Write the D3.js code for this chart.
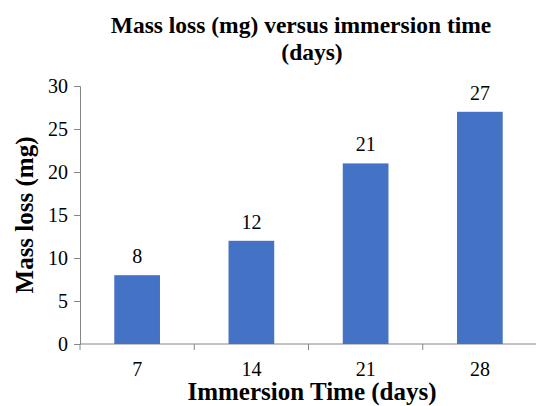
<!DOCTYPE html>
<html>
<head>
<meta charset="utf-8">
<script src="https://cdn.jsdelivr.net/npm/d3@7"></script>
<style>
  html, body { margin: 0; padding: 0; background: #fff; }
  svg text { font-family: "Liberation Serif", "Times New Roman", serif !important; fill: #000; }
</style>
</head>
<body>
<svg id="chart" width="536" height="406"></svg>
<script>
// Immersion time (days) and measured mass loss (mg)
const days = ["7", "14", "21", "28"];
const massLoss = [8, 12, 21, 27];
const yTicks = [0, 5, 10, 15, 20, 25, 30];

(function draw() {
  const serif = "Liberation Serif, Times New Roman, serif";
  const svg = d3.select("#chart").attr("font-family", serif);
  const plotLeft = 80, plotRight = 537, plotTop = 86, plotBottom = 344;

  const x = d3.scaleBand()
    .domain(days)
    .range([plotLeft, plotRight])
    .paddingInner(0.6)
    .paddingOuter(0.3);

  const y = d3.scaleLinear().domain([0, 30]).range([plotBottom, plotTop]);

  const axisColor = "#868686";

  // Y axis
  const yAxis = svg.append("g")
    .attr("transform", `translate(${plotLeft},0)`)
    .call(d3.axisLeft(y).tickValues(yTicks).tickSize(6).tickPadding(6));
  yAxis.attr("font-family", serif).attr("font-size", 20);
  yAxis.select(".domain").attr("stroke", axisColor);
  yAxis.selectAll(".tick line").attr("stroke", axisColor);
  yAxis.selectAll(".tick text").attr("fill", "#000");

  // X axis: ticks sit on the category boundaries
  const xAxisG = svg.append("g").attr("transform", `translate(0,${plotBottom})`);
  xAxisG.append("line")
    .attr("x1", plotLeft).attr("x2", plotRight)
    .attr("y1", 0).attr("y2", 0)
    .attr("stroke", axisColor);
  const step = x.step();
  const boundaries = d3.range(days.length + 1).map(i => plotLeft + i * step);
  xAxisG.selectAll(".xtick")
    .data(boundaries)
    .join("line")
    .attr("class", "xtick")
    .attr("x1", d => d).attr("x2", d => d)
    .attr("y1", 0).attr("y2", 6)
    .attr("stroke", axisColor);
  xAxisG.selectAll(".xlabel")
    .data(days)
    .join("text")
    .attr("class", "xlabel")
    .attr("x", d => x(d) + x.bandwidth() / 2)
    .attr("y", 32)
    .attr("text-anchor", "middle")
    .attr("font-size", 20)
    .text(d => d);

  const rows = days.map((d, i) => ({ day: d, value: massLoss[i] }));

  // Bars
  svg.append("g")
    .selectAll("rect")
    .data(rows)
    .join("rect")
    .attr("x", d => x(d.day))
    .attr("y", d => y(d.value))
    .attr("width", x.bandwidth())
    .attr("height", d => y(0) - y(d.value))
    .attr("fill", "#4472C4");

  // Value labels
  svg.append("g")
    .selectAll("text")
    .data(rows)
    .join("text")
    .attr("x", d => x(d.day) + x.bandwidth() / 2)
    .attr("y", d => y(d.value) - 12)
    .attr("text-anchor", "middle")
    .attr("font-size", 20)
    .text(d => d.value);

  // Axis titles
  svg.append("text")
    .attr("x", 312)
    .attr("y", 400)
    .attr("text-anchor", "middle")
    .attr("font-size", 25)
    .attr("font-weight", "bold")
    .text("Immersion Time (days)");

  svg.append("text")
    .attr("transform", "translate(33,215) rotate(-90)")
    .attr("text-anchor", "middle")
    .attr("font-size", 25)
    .attr("font-weight", "bold")
    .text("Mass loss (mg)");

  // Chart title
  svg.append("text")
    .attr("x", 301)
    .attr("y", 33)
    .attr("text-anchor", "middle")
    .attr("font-size", 23.5)
    .attr("font-weight", "bold")
    .text("Mass loss (mg) versus immersion time");
  svg.append("text")
    .attr("x", 312)
    .attr("y", 60)
    .attr("text-anchor", "middle")
    .attr("font-size", 23.5)
    .attr("font-weight", "bold")
    .text("(days)");
})();
</script>
</body>
</html>
